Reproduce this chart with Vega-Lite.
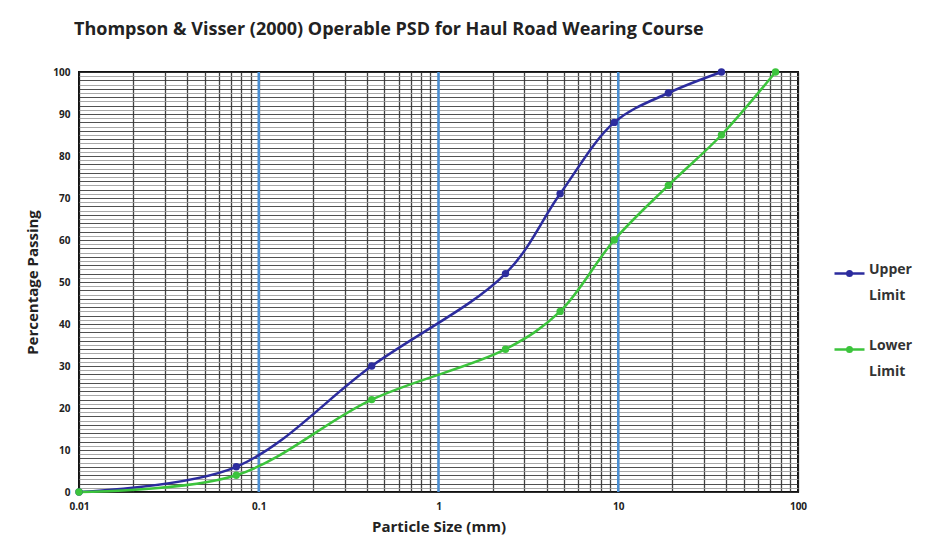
{
  "$schema": "https://vega.github.io/schema/vega-lite/v6.json",
  "width": 719,
  "height": 420,
  "autosize": {"type": "none"},
  "padding": {"left": 79, "top": 72, "right": 130, "bottom": 63},
  "background": "white",
  "config": {
    "font": "Open Sans",
    "view": {"stroke": "#111", "strokeWidth": 2},
    "style": {"guide-label": {"lineHeight": 26}},
    "axis": {"labelFont": "Open Sans", "titleFont": "Open Sans", "labelFontWeight": "bold", "titleFontWeight": "bold", "labelColor": "#222", "titleColor": "#222", "domain": false, "ticks": false}
  },
  "title": {"text": "Thompson & Visser (2000) Operable PSD for Haul Road Wearing Course", "anchor": "start", "frame": "group", "fontSize": 18, "font": "Open Sans", "fontWeight": "bold", "color": "#222", "dx": -5, "offset": 28},
  "layer": [
    {
      "data": {"values": [{"x": 0.1}, {"x": 1}, {"x": 10}]},
      "mark": {"type": "rule", "color": "#4A8FD4", "strokeWidth": 2.5},
      "encoding": {"x": {"field": "x", "type": "quantitative", "scale": {"type": "log", "domain": [0.01, 100]}}}
    },
    {
      "data": {"values": [
        {"size": 0.01, "pct": 0, "series": "Upper Limit"},
        {"size": 0.075, "pct": 6, "series": "Upper Limit"},
        {"size": 0.425, "pct": 30, "series": "Upper Limit"},
        {"size": 2.36, "pct": 52, "series": "Upper Limit"},
        {"size": 4.75, "pct": 71, "series": "Upper Limit"},
        {"size": 9.5, "pct": 88, "series": "Upper Limit"},
        {"size": 19, "pct": 95, "series": "Upper Limit"},
        {"size": 37.5, "pct": 100, "series": "Upper Limit"},
        {"size": 0.01, "pct": 0, "series": "Lower Limit"},
        {"size": 0.075, "pct": 4, "series": "Lower Limit"},
        {"size": 0.425, "pct": 22, "series": "Lower Limit"},
        {"size": 2.36, "pct": 34, "series": "Lower Limit"},
        {"size": 4.75, "pct": 43, "series": "Lower Limit"},
        {"size": 9.5, "pct": 60, "series": "Lower Limit"},
        {"size": 19, "pct": 73, "series": "Lower Limit"},
        {"size": 37.5, "pct": 85, "series": "Lower Limit"},
        {"size": 75, "pct": 100, "series": "Lower Limit"}
      ]},
      "mark": {"type": "line", "interpolate": "catmull-rom", "strokeWidth": 2.5, "point": {"filled": true, "size": 55}},
      "encoding": {
        "x": {"field": "size", "type": "quantitative", "scale": {"type": "log", "domain": [0.01, 100]},
          "title": "Particle Size (mm)",
          "axis": {
            "values": [0.01,0.02,0.03,0.04,0.05,0.06,0.07,0.08,0.09,0.1,0.2,0.3,0.4,0.5,0.6,0.7,0.8,0.9,1,2,3,4,5,6,7,8,9,10,20,30,40,50,60,70,80,90,100],
            "labelExpr": "indexof([0.01,0.1,1,10,100], datum.value) >= 0 ? format(datum.value, '~g') : ''",
            "gridColor": "#222", "gridOpacity": 0.85, "gridWidth": 1.3,
            "labelFontSize": 10, "labelPadding": 9, "titleFontSize": 15, "titlePadding": 8, "labelFlush": false
          }
        },
        "y": {"field": "pct", "type": "quantitative", "scale": {"domain": [0, 100], "nice": false},
          "title": "Percentage Passing",
          "axis": {
            "values": [0,1,2,3,4,5,6,7,8,9,10,11,12,13,14,15,16,17,18,19,20,21,22,23,24,25,26,27,28,29,30,31,32,33,34,35,36,37,38,39,40,41,42,43,44,45,46,47,48,49,50,51,52,53,54,55,56,57,58,59,60,61,62,63,64,65,66,67,68,69,70,71,72,73,74,75,76,77,78,79,80,81,82,83,84,85,86,87,88,89,90,91,92,93,94,95,96,97,98,99,100],
            "labelExpr": "datum.value % 10 == 0 ? datum.label : ''",
            "gridColor": {"condition": {"test": "datum.value % 2 == 0", "value": "#333"}, "value": "#999"},
            "gridOpacity": 0.85,
            "labelFontSize": 10, "labelPadding": 9, "titleFontSize": 15, "titlePadding": 12
          }
        },
        "color": {"field": "series", "type": "nominal", "sort": ["Upper Limit", "Lower Limit"],
          "scale": {"domain": ["Upper Limit", "Lower Limit"], "range": ["#2C2C9E", "#3CC43C"]},
          "legend": {"title": null, "orient": "none", "legendX": 754, "legendY": 185, "labelExpr": "split(datum.label, ' ')", "labelFontSize": 14, "labelFontWeight": "bold", "labelColor": "#333", "labelFont": "Open Sans", "labelBaseline": "alphabetic", "symbolType": "M-1,0H1M-0.15,0A0.15,0.15 0 1,1 0.15,0A0.15,0.15 0 1,1 -0.15,0", "symbolStrokeWidth": 2.5, "symbolSize": 900, "rowPadding": 30, "labelOffset": 3}
        }
      }
    }
  ]
}
